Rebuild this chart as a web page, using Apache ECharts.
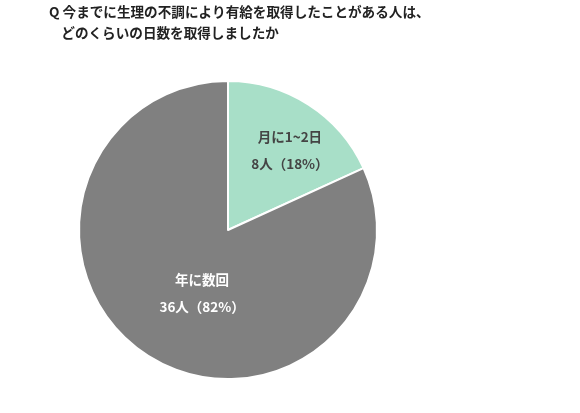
<!DOCTYPE html>
<html><head><meta charset="utf-8">
<script src="https://cdn.jsdelivr.net/npm/echarts@6/dist/echarts.min.js"></script>
<style>html,body{margin:0;padding:0;background:#fff}#c{width:580px;height:413px}</style>
</head><body><div id="c"></div>
<script>
const categories = ['月に1~2日', '年に数回'];
const counts = [8, 36];
const percents = [18, 82];
const colors = ['#a8dfc8', '#808080'];
const labelColors = ['#444444', '#ffffff'];
const labelShift = [[20, -14], [16, -2]];

const chart = echarts.init(document.getElementById('c'));
chart.setOption({
  animation: false,
  title: {
    text: 'Q 今までに生理の不調により有給を取得したことがある人は、\n    どのくらいの日数を取得しましたか',
    left: 49, top: 1, padding: 0,
    textStyle: {fontFamily: 'Noto Sans CJK JP', fontSize: 13.6, fontWeight: 'bold', color: '#222', lineHeight: 21}
  },
  series: [{
    type: 'pie',
    center: [228, 230],
    radius: [0, 149],
    startAngle: 90,
    clockwise: true,
    itemStyle: {borderColor: '#fff', borderWidth: 2},
    labelLine: {show: false},
    labelLayout: function (p) {
      return {dx: labelShift[p.dataIndex][0], dy: labelShift[p.dataIndex][1]};
    },
    data: categories.map((c, i) => ({
      name: c, value: counts[i],
      itemStyle: {color: colors[i]},
      label: {
        show: true, position: 'inside',
        formatter: c + '\n' + counts[i] + '人（' + percents[i] + '%）',
        color: labelColors[i], fontFamily: 'Noto Sans CJK JP', fontSize: 13.5, fontWeight: 'bold',
        lineHeight: 27
      }
    }))
  }]
});
</script></body></html>
